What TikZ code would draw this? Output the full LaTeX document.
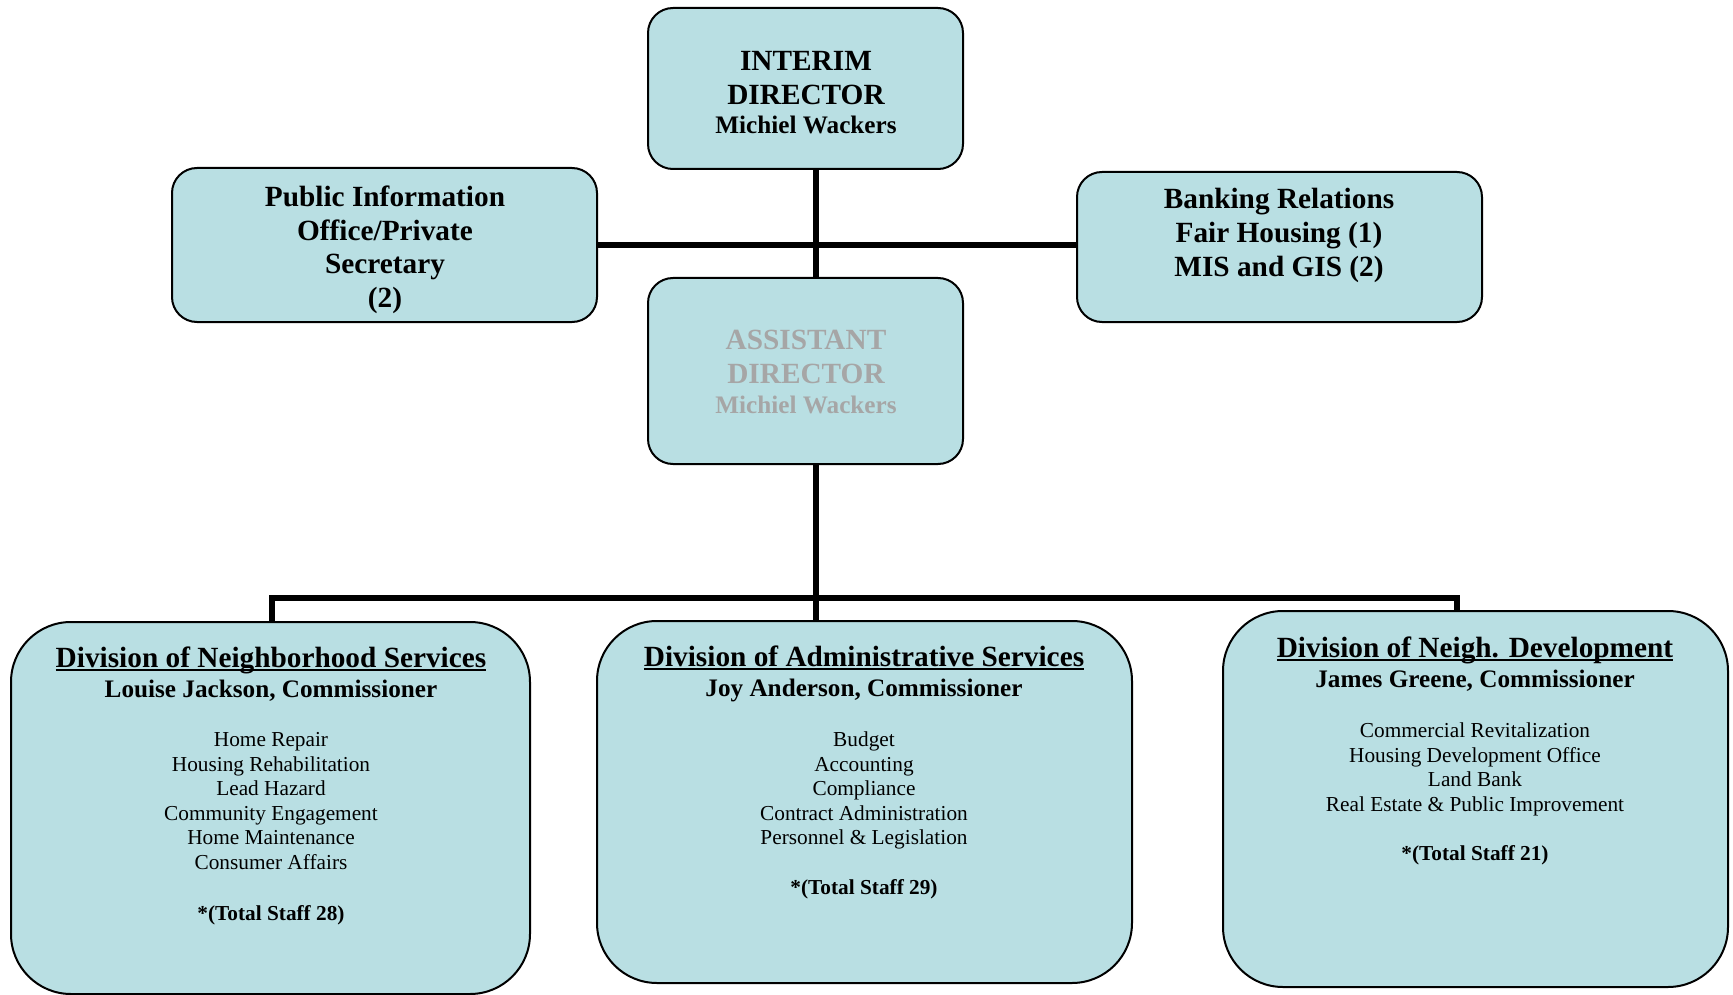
\documentclass[tikz,border=0pt]{standalone}
\usepackage{fontspec}
\setmainfont{Liberation Serif}
\usetikzlibrary{backgrounds}
\definecolor{boxfill}{RGB}{185,223,227}
\definecolor{asstgray}{RGB}{166,166,166}
\newcommand\fBig{\bfseries\fontsize{29.3}{33}\selectfont}
\newcommand\fMid{\bfseries\fontsize{25.2}{30}\selectfont}
\newcommand\fSmall{\fontsize{21.3}{25}\selectfont}
\newcommand\fSmallB{\bfseries\fontsize{21.3}{25}\selectfont}
\newsavebox\ulbox
\newcommand\ulin[1]{\sbox\ulbox{#1}\rlap{\rule[-4pt]{\wd\ulbox}{2.2pt}}\usebox\ulbox}
\begin{document}
\begin{tikzpicture}[x=1pt,y=-1pt,
  box/.style={draw=black, line width=2pt, fill=boxfill, inner sep=0pt, outer sep=0pt, rectangle},
  smallbox/.style={box, rounded corners=25pt},
  bigbox/.style={box, rounded corners=60pt},
  conn/.style={line width=6pt, black, line join=miter},
  lbl/.style={anchor=base, inner sep=0pt, outer sep=0pt}]
\useasboundingbox (0,0) rectangle (1733,995);

% boxes
\node[smallbox, minimum width=315pt, minimum height=161pt] (interim) at (805.5,88.5) {};
\node[smallbox, minimum width=315pt, minimum height=186pt] (asst) at (805.5,371) {};
\node[smallbox, minimum width=425pt, minimum height=154pt] (pub) at (384.5,245) {};
\node[smallbox, minimum width=405pt, minimum height=150pt] (bank) at (1279.5,247) {};
\node[bigbox, minimum width=519pt, minimum height=372pt] (divL) at (270.5,808) {};
\node[bigbox, minimum width=535pt, minimum height=362pt] (divM) at (864.5,802) {};
\node[bigbox, minimum width=505pt, minimum height=376pt] (divR) at (1475.5,799) {};

% connectors
\coordinate (spine) at (816,0);
\coordinate (hbar) at (0,245.5);
\coordinate (lb) at (272,598);
\coordinate (rb) at (1457,598);
\begin{scope}[on background layer]
\draw[conn] (spine |- interim.south) -- (spine |- asst.north);
\draw[conn] (pub.east |- hbar) -- (bank.west |- hbar);
\draw[conn] (spine |- asst.south) -- (spine |- divM.north);
\draw[conn] (lb |- divL.north) -- (lb) -- (rb) -- (rb |- divR.north);
\end{scope}

% interim director
\node[lbl, font=\fBig] (i1) at (806,71) {INTERIM};
\node[lbl, font=\fBig] (i2) at (806,105) {DIRECTOR};
\node[lbl, font=\fMid] (i3) at (806,134) {Michiel Wackers};

% assistant director
\node[lbl, font=\fBig, text=asstgray] (a1) at (806,349) {ASSISTANT};
\node[lbl, font=\fBig, text=asstgray] (a2) at (806,383) {DIRECTOR};
\node[lbl, font=\fMid, text=asstgray] (a3) at (806,413) {Michiel Wackers};

% public information
\node[lbl, font=\fBig] (p1) at (385,207) {Public Information};
\node[lbl, font=\fBig] (p2) at (385,240.5) {Office/Private};
\node[lbl, font=\fBig] (p3) at (385,274) {Secretary};
\node[lbl, font=\fBig] (p4) at (385,307) {(2)};

% banking
\node[lbl, font=\fBig] (b1) at (1279,209) {Banking Relations};
\node[lbl, font=\fBig] (b2) at (1279,243) {Fair Housing (1)};
\node[lbl, font=\fBig] (b3) at (1279,276.5) {MIS and GIS (2)};

% division of neighborhood services
\node[lbl, font=\fBig] (l0) at (271,667) {\ulin{Division of Neighborhood Services}};
\node[lbl, font=\fMid] (l1) at (271,697) {Louise Jackson, Commissioner};
\node[lbl, font=\fSmall] (l2) at (271,746.5) {Home Repair};
\node[lbl, font=\fSmall] (l3) at (271,771.1) {Housing Rehabilitation};
\node[lbl, font=\fSmall] (l4) at (271,795.7) {Lead Hazard};
\node[lbl, font=\fSmall] (l5) at (271,820.3) {Community Engagement};
\node[lbl, font=\fSmall] (l6) at (271,844.9) {Home Maintenance};
\node[lbl, font=\fSmall] (l7) at (271,869.5) {Consumer Affairs};
\node[lbl, font=\fSmallB] (l8) at (271,920) {*(Total Staff 28)};

% division of administrative services
\node[lbl, font=\fBig] (m0) at (864,666) {\ulin{Division of Administrative Services}};
\node[lbl, font=\fMid] (m1) at (864,696) {Joy Anderson, Commissioner};
\node[lbl, font=\fSmall] (m2) at (864,746.5) {Budget};
\node[lbl, font=\fSmall] (m3) at (864,771.1) {Accounting};
\node[lbl, font=\fSmall] (m4) at (864,795.7) {Compliance};
\node[lbl, font=\fSmall] (m5) at (864,820.3) {Contract Administration};
\node[lbl, font=\fSmall] (m6) at (864,844.9) {Personnel \& Legislation};
\node[lbl, font=\fSmallB] (m7) at (864,894.5) {*(Total Staff 29)};

% division of neigh. development
\node[lbl, font=\fBig] (r0) at (1475,657) {\ulin{Division of Neigh. Development}};
\node[lbl, font=\fMid] (r1) at (1475,687) {James Greene, Commissioner};
\node[lbl, font=\fSmall] (r2) at (1475,737.5) {Commercial Revitalization};
\node[lbl, font=\fSmall] (r3) at (1475,762) {Housing Development Office};
\node[lbl, font=\fSmall] (r4) at (1475,786.5) {Land Bank};
\node[lbl, font=\fSmall] (r5) at (1475,811) {Real Estate \& Public Improvement};
\node[lbl, font=\fSmallB] (r6) at (1475,860) {*(Total Staff 21)};
\end{tikzpicture}
\end{document}
